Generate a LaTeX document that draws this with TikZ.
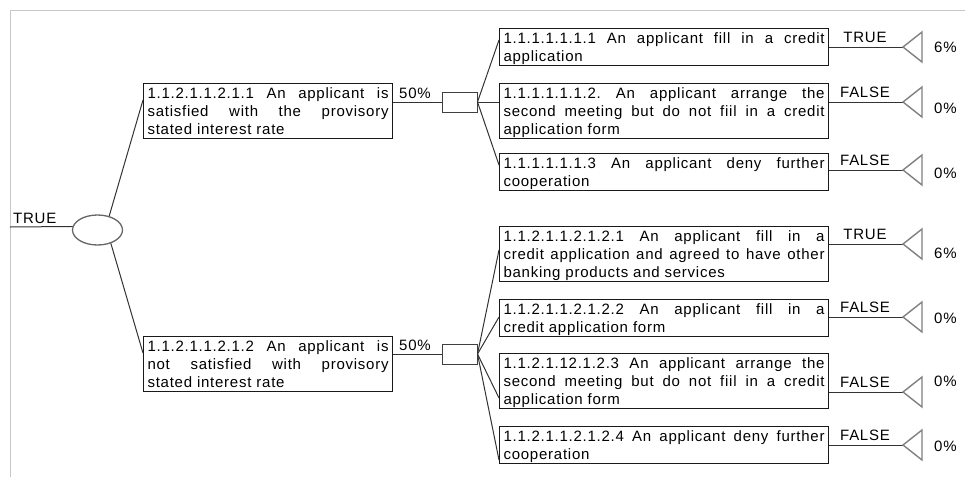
\documentclass[tikz,border=0pt]{standalone}
\usepackage{fontspec}
\setmainfont[Ligatures=CommonOff]{Liberation Sans}
\usetikzlibrary{shapes.geometric, calc}

% struts for the first and the last line of a box
\newcommand{\topstrut}{\rule{0pt}{14.5pt}}
\newcommand{\botstrut}{\rule[-4pt]{0pt}{4pt}}
\pretolerance=10000
\hbadness=10000
\frenchspacing

\begin{document}
\begin{tikzpicture}[x=1pt, y=-1pt,
    every node/.style={font=\fontsize{15}{18}\selectfont\addfontfeature{LetterSpace=5}},
    conn/.style={draw=black!80, line width=1pt},
    event/.style={draw=black!90, line width=1.1pt, anchor=north west,
        inner xsep=4pt, inner ysep=0pt, align=justify},
    wide/.style={event, text width=321pt},
    narrow/.style={event, text width=241pt},
    chance/.style={ellipse, draw=black!60, line width=1.3pt, minimum width=50pt,
        minimum height=30pt, inner sep=0pt},
    decision/.style={rectangle, draw=black!75, line width=1pt, minimum width=35pt,
        minimum height=20pt, inner sep=0pt},
    endtri/.style={draw=black!50, line width=1.4pt, line join=miter},
    lab/.style={anchor=base, inner sep=0pt},
    frame/.style={draw=black!22, line width=1pt}
]
    \useasboundingbox (0,0) rectangle (965,477);
    \draw[frame] (965,10) -- (10,10) -- (10,477);

    % --- Root and chance node ---
    \coordinate (root) at (10,227);
    \node[chance] (ch) at (97.5,230) {};
    \node[lab, anchor=base west] (rootlab) at (13,223) {TRUE};
    \draw[conn] (root) -- (ch.172);

    % --- First level ---
    \node[narrow] (satis) at (143,83) {\topstrut 1.1.2.1.1.2.1.1 An applicant is\linebreak
        satisfied with the provisory\linebreak stated interest rate\botstrut};
    \node[narrow] (unsat) at (143,336) {\topstrut 1.1.2.1.1.2.1.2 An applicant is\linebreak
        not satisfied with provisory\linebreak stated interest rate\botstrut};
    \draw[conn] (ch.50) -- ([yshift=-17pt]satis.north west);
    \draw[conn] (ch.-45) -- ([yshift=-17pt]unsat.north west);

    % decision boxes with 50% on the way
    \node[decision] (dsat) at (459.5,102) {};
    \node[decision] (dunsat) at (459.5,354) {};
    \draw[conn] (satis.east |- dsat) -- (dsat.west);
    \draw[conn] (unsat.east |- dunsat) -- (dunsat.west);
    \node[lab, anchor=base west] (psat) at (399,98.5) {50\%};
    \node[lab, anchor=base west] (punsat) at (399,350.5) {50\%};

    % --- Second level, upper ---
    \node[wide] (ua) at (499,28) {\topstrut 1.1.1.1.1.1.1 An applicant fill in a credit\linebreak
        application\botstrut};
    \node[wide] (ub) at (499,83) {\topstrut 1.1.1.1.1.1.2. An applicant arrange the\linebreak
        second meeting but do not fiil in a credit\linebreak application form\botstrut};
    \node[wide] (uc) at (499,153) {\topstrut 1.1.1.1.1.1.3 An applicant deny further\linebreak
        cooperation\botstrut};
    \draw[conn] (dsat.east) -- ([yshift=-12pt]ua.north west);
    \draw[conn] (dsat.east) -- ([yshift=-19pt]ub.north west);
    \draw[conn] (dsat.east) -- ([yshift=-12pt]uc.north west);

    % --- Second level, lower ---
    \node[wide] (la) at (499,226) {\topstrut 1.1.2.1.1.2.1.2.1 An applicant fill in a\linebreak
        credit application and agreed to have other\linebreak banking products and services\botstrut};
    \node[wide] (lb) at (499,299) {\topstrut 1.1.2.1.1.2.1.2.2 An applicant fill in a\linebreak
        credit application form\botstrut};
    \node[wide] (lc) at (499,353) {\topstrut 1.1.2.1.12.1.2.3 An applicant arrange the\linebreak
        second meeting but do not fiil in a credit\linebreak application form\botstrut};
    \node[wide] (ld) at (499,426) {\topstrut 1.1.2.1.1.2.1.2.4 An applicant deny further\linebreak
        cooperation\botstrut};
    \draw[conn] (dunsat.east) -- ([yshift=-24pt]la.north west);
    \draw[conn] (dunsat.east) -- ([yshift=-18pt]lb.north west);
    \draw[conn] (dunsat.east) -- ([yshift=-45pt]lc.north west);
    \draw[conn] (dunsat.east) -- ([yshift=-34pt]ld.north west);

    % --- End nodes: outcome, triangle, payoff ---
    \foreach \b/\y/\res/\pay/\py in {ua/47/TRUE/6/52, ub/102/FALSE/0/113, uc/170/FALSE/0/178,
        la/244/TRUE/6/258, lb/317/FALSE/0/323, lc/392/FALSE/0/386, ld/445/FALSE/0/451} {
        \coordinate (t\b) at (903,\y);
        \draw[conn] (\b.east |- t\b) -- (t\b);
        \draw[endtri] (t\b) -- ++(19,-15) -- ++(0,30) -- cycle;
        \node[lab] (r\b) at (865,\y-5) {\res};
        \node[lab, anchor=base west] (p\b) at (934,\py) {\pay\%};
    }
\end{tikzpicture}
\end{document}
